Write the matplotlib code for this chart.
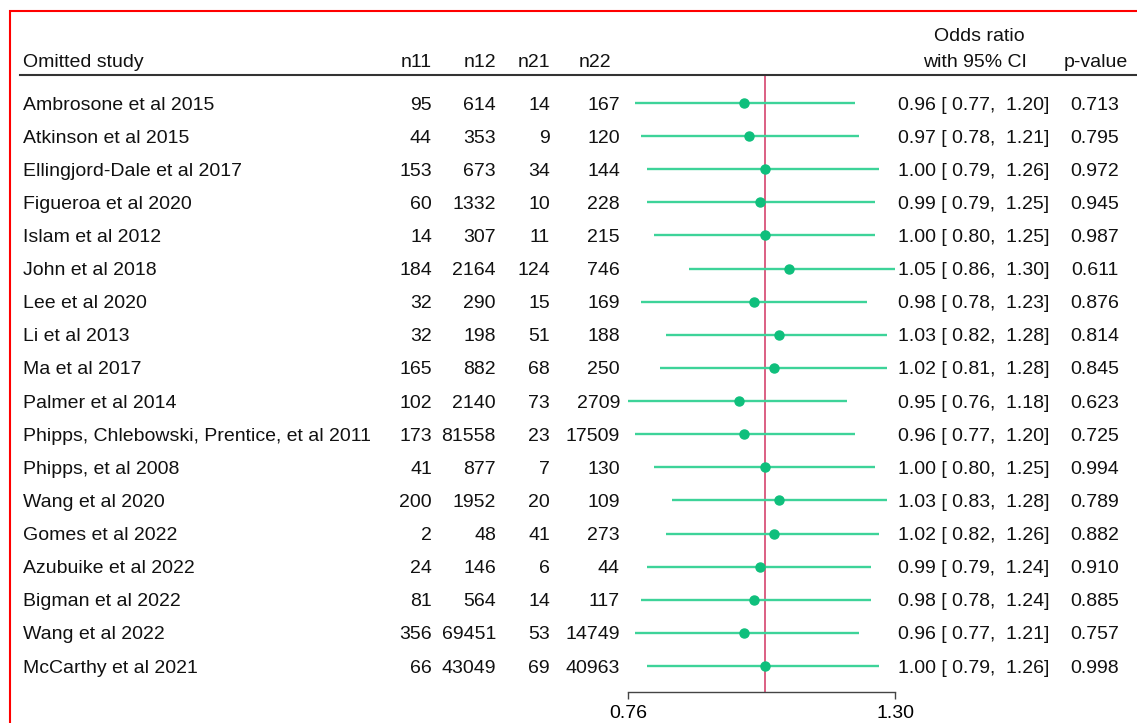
import matplotlib
matplotlib.use("Agg")
import matplotlib.pyplot as plt
import matplotlib.transforms as mtransforms
from matplotlib.patches import Rectangle
from matplotlib.lines import Line2D

plt.rcParams['font.family'] = ['Liberation Sans', 'DejaVu Sans']

studies = ["Ambrosone et al 2015", "Atkinson et al 2015", "Ellingjord-Dale et al 2017",
           "Figueroa et al 2020", "Islam et al 2012", "John et al 2018", "Lee et al 2020",
           "Li et al 2013", "Ma et al 2017", "Palmer et al 2014",
           "Phipps, Chlebowski, Prentice, et al 2011", "Phipps, et al 2008",
           "Wang et al 2020", "Gomes et al 2022", "Azubuike et al 2022",
           "Bigman et al 2022", "Wang et al 2022", "McCarthy et al 2021"]
n11 = [95, 44, 153, 60, 14, 184, 32, 32, 165, 102, 173, 41, 200, 2, 24, 81, 356, 66]
n12 = [614, 353, 673, 1332, 307, 2164, 290, 198, 882, 2140, 81558, 877, 1952, 48, 146, 564, 69451, 43049]
n21 = [14, 9, 34, 10, 11, 124, 15, 51, 68, 73, 23, 7, 20, 41, 6, 14, 53, 69]
n22 = [167, 120, 144, 228, 215, 746, 169, 188, 250, 2709, 17509, 130, 109, 273, 44, 117, 14749, 40963]
odds = [0.96, 0.97, 1.00, 0.99, 1.00, 1.05, 0.98, 1.03, 1.02, 0.95, 0.96, 1.00, 1.03, 1.02, 0.99, 0.98, 0.96, 1.00]
ci_low = [0.77, 0.78, 0.79, 0.79, 0.80, 0.86, 0.78, 0.82, 0.81, 0.76, 0.77, 0.80, 0.83, 0.82, 0.79, 0.78, 0.77, 0.79]
ci_high = [1.20, 1.21, 1.26, 1.25, 1.25, 1.30, 1.23, 1.28, 1.28, 1.18, 1.20, 1.25, 1.28, 1.26, 1.24, 1.24, 1.21, 1.26]
pvals = [0.713, 0.795, 0.972, 0.945, 0.987, 0.611, 0.876, 0.814, 0.845, 0.623, 0.725, 0.994, 0.789, 0.882, 0.910, 0.885, 0.757, 0.998]
xticks = [0.76, 1.30]
xtick_labels = ["0.76", "1.30"]

W, H = 1137, 723
fig = plt.figure(figsize=(W / 100, H / 100), dpi=100)

# pixel geometry
ax_left, ax_right = 628, 895
ax_top, ax_bot = 75, 692
row0, dy = 103, 33.12
n = len(studies)

ax = fig.add_axes([ax_left / W, 1 - ax_bot / H, (ax_right - ax_left) / W, (ax_bot - ax_top) / H])
ax.set_xscale('log')
ax.set_xlim(xticks[0], xticks[1])
ytop = -(row0 - ax_top) / dy
ybot = (n - 1) + (ax_bot - (row0 + dy * (n - 1))) / dy
ax.set_ylim(ybot, ytop)

line_col = '#3dd399'
pt_col = '#0fbf7c'
ref_col = '#d9537a'
txt_col = '#111111'
fs = 14

ax.axvline(1.0, color=ref_col, lw=1.3, zorder=1)
for i in range(n):
    ax.plot([ci_low[i], ci_high[i]], [i, i], color=line_col, lw=1.7, clip_on=False, zorder=2,
            solid_capstyle='butt')
ax.plot(odds, range(n), 'o', color=pt_col, ms=6.5, clip_on=False, zorder=3)

for s in ['top', 'left', 'right']:
    ax.spines[s].set_visible(False)
ax.spines['bottom'].set_color('#444444')
ax.spines['bottom'].set_linewidth(1.0)
ax.set_yticks([])
ax.xaxis.set_minor_locator(matplotlib.ticker.NullLocator())
ax.set_xticks(xticks)
ax.set_xticklabels(xtick_labels, fontsize=fs)
ax.tick_params(axis='x', direction='out', length=5, width=1.0, color='#444444', pad=4.5)

base = mtransforms.blended_transform_factory(fig.transFigure, ax.transData)
trans = mtransforms.offset_copy(base, fig=fig, x=0, y=-2, units='dots')
ftrans = mtransforms.offset_copy(fig.transFigure, fig=fig, x=0, y=-2.5, units='dots')

def fx(px):
    return px / W

for i in range(n):
    ax.text(fx(23), i, studies[i], transform=trans, ha='left', va='center', fontsize=fs, color=txt_col)
    ax.text(fx(432), i, str(n11[i]), transform=trans, ha='right', va='center', fontsize=fs, color=txt_col)
    ax.text(fx(496), i, str(n12[i]), transform=trans, ha='right', va='center', fontsize=fs, color=txt_col)
    ax.text(fx(550), i, str(n21[i]), transform=trans, ha='right', va='center', fontsize=fs, color=txt_col)
    ax.text(fx(620), i, str(n22[i]), transform=trans, ha='right', va='center', fontsize=fs, color=txt_col)
    ax.text(fx(898), i, "{:.2f} [{:5.2f},  {:.2f}]".format(odds[i], ci_low[i], ci_high[i]),
            transform=trans, ha='left', va='center', fontsize=fs, color=txt_col)
    ax.text(fx(1119), i, "{:.3f}".format(pvals[i]), transform=trans, ha='right', va='center',
            fontsize=fs, color=txt_col)

# headers
hy = 1 - 60 / H
fig.text(fx(23), hy, "Omitted study", transform=ftrans, ha='left', va='center', fontsize=fs, color=txt_col)
fig.text(fx(432), hy, "n11", transform=ftrans, ha='right', va='center', fontsize=fs, color=txt_col)
fig.text(fx(496), hy, "n12", transform=ftrans, ha='right', va='center', fontsize=fs, color=txt_col)
fig.text(fx(550), hy, "n21", transform=ftrans, ha='right', va='center', fontsize=fs, color=txt_col)
fig.text(fx(611), hy, "n22", transform=ftrans, ha='right', va='center', fontsize=fs, color=txt_col)
fig.text(fx(979), 1 - 34 / H, "Odds ratio", transform=ftrans, ha='center', va='center', fontsize=fs, color=txt_col)
fig.text(fx(975), hy, "with 95% CI", transform=ftrans, ha='center', va='center', fontsize=fs, color=txt_col)
fig.text(fx(1096), hy, "p-value", transform=ftrans, ha='center', va='center', fontsize=fs, color=txt_col)

# header rule
fig.add_artist(Line2D([20 / W, 1.0], [1 - ax_top / H, 1 - ax_top / H], color='#333333', lw=1.5,
                      transform=fig.transFigure))

# red frame
fig.add_artist(Rectangle((10 / W, -0.1), 1.2, 1 - 11 / H + 0.1, fill=False, edgecolor='#ff0000',
                         lw=1.5, transform=fig.transFigure))

fig.savefig("out.png", dpi=100)
